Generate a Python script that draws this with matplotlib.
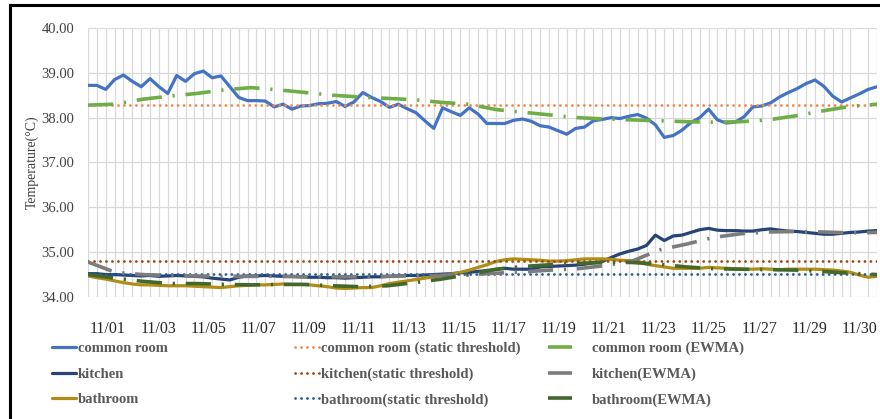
import numpy as np
import matplotlib
matplotlib.use("Agg")
import matplotlib.pyplot as plt
from matplotlib.lines import Line2D
from matplotlib.ticker import FixedLocator, MultipleLocator, FormatStrFormatter

plt.rcParams['font.family'] = ['Liberation Serif', 'DejaVu Serif']

# three readings per day, 11/01 .. 11/30
common_room = [
    38.72, 38.72, 38.63, 38.85, 38.95, 38.81, 38.69, 38.87, 38.69, 38.54,
    38.94, 38.81, 38.98, 39.04, 38.89, 38.93, 38.69, 38.45, 38.38, 38.38,
    38.37, 38.24, 38.30, 38.19, 38.26, 38.27, 38.31, 38.32, 38.36, 38.25,
    38.35, 38.56, 38.45, 38.36, 38.23, 38.30, 38.20, 38.11, 37.93, 37.76,
    38.22, 38.13, 38.05, 38.22, 38.08, 37.87, 37.87, 37.87, 37.94, 37.97,
    37.92, 37.82, 37.79, 37.71, 37.63, 37.76, 37.79, 37.93, 37.96, 38.00,
    37.98, 38.03, 38.07, 37.99, 37.84, 37.56, 37.60, 37.72, 37.89, 38.00,
    38.19, 37.95, 37.88, 37.90, 38.02, 38.24, 38.26, 38.33, 38.46, 38.56,
    38.65, 38.76, 38.84, 38.70, 38.48, 38.35, 38.44, 38.53, 38.63, 38.69,
]
kitchen = [
    34.52, 34.52, 34.50, 34.50, 34.49, 34.48, 34.47, 34.48, 34.46, 34.47,
    34.48, 34.47, 34.46, 34.45, 34.42, 34.40, 34.38, 34.44, 34.47, 34.47,
    34.48, 34.47, 34.46, 34.46, 34.45, 34.44, 34.44, 34.43, 34.43, 34.42,
    34.43, 34.44, 34.45, 34.45, 34.46, 34.47, 34.48, 34.48, 34.49, 34.50,
    34.51, 34.52, 34.54, 34.55, 34.57, 34.59, 34.61, 34.64, 34.62, 34.62,
    34.62, 34.67, 34.68, 34.69, 34.70, 34.71, 34.73, 34.76, 34.79, 34.88,
    34.96, 35.02, 35.07, 35.15, 35.38, 35.26, 35.36, 35.38, 35.44, 35.50,
    35.53, 35.49, 35.48, 35.48, 35.47, 35.47, 35.50, 35.52, 35.49, 35.47,
    35.46, 35.44, 35.42, 35.40, 35.40, 35.42, 35.44, 35.45, 35.47, 35.48,
]
bathroom = [
    34.47, 34.43, 34.40, 34.36, 34.32, 34.29, 34.27, 34.27, 34.26, 34.25,
    34.25, 34.25, 34.24, 34.23, 34.22, 34.21, 34.23, 34.25, 34.26, 34.27,
    34.27, 34.28, 34.29, 34.28, 34.28, 34.27, 34.25, 34.23, 34.20, 34.19,
    34.20, 34.21, 34.21, 34.25, 34.30, 34.33, 34.36, 34.39, 34.42, 34.45,
    34.48, 34.51, 34.55, 34.60, 34.66, 34.72, 34.79, 34.83, 34.85, 34.84,
    34.83, 34.82, 34.80, 34.80, 34.81, 34.83, 34.85, 34.85, 34.85, 34.84,
    34.82, 34.81, 34.80, 34.73, 34.70, 34.67, 34.64, 34.64, 34.64, 34.64,
    34.66, 34.65, 34.64, 34.63, 34.62, 34.62, 34.63, 34.62, 34.61, 34.62,
    34.62, 34.62, 34.62, 34.61, 34.60, 34.58, 34.55, 34.49, 34.44, 34.46,
]

# daily EWMA values
common_room_ewma = [
    38.28, 38.30, 38.41, 38.48, 38.54, 38.62, 38.67, 38.62, 38.56, 38.50,
    38.46, 38.43, 38.40, 38.34, 38.30, 38.18, 38.12, 38.06, 38.00, 37.97,
    37.95, 37.93, 37.91, 37.90, 37.91, 37.95, 38.04, 38.15, 38.25, 38.30,
]
kitchen_ewma = [
    34.78, 34.55, 34.50, 34.48, 34.47, 34.46, 34.46, 34.46, 34.45, 34.45,
    34.45, 34.46, 34.47, 34.48, 34.50, 34.53, 34.56, 34.60, 34.63, 34.70,
    34.80, 35.05, 35.18, 35.33, 35.41, 35.45, 35.46, 35.45, 35.43, 35.44,
]
bathroom_ewma = [
    34.50, 34.42, 34.35, 34.30, 34.30, 34.28, 34.27, 34.28, 34.28, 34.25,
    34.23, 34.25, 34.32, 34.40, 34.50, 34.62, 34.68, 34.72, 34.75, 34.77,
    34.77, 34.73, 34.67, 34.63, 34.62, 34.61, 34.60, 34.57, 34.53, 34.50,
]

common_room_static = 38.28
kitchen_static = 34.80
bathroom_static = 34.52

date_labels = ['11/01', '11/03', '11/05', '11/07', '11/09', '11/11', '11/13', '11/15',
               '11/17', '11/19', '11/21', '11/23', '11/25', '11/27', '11/29', '11/30']

x = np.arange(len(common_room))
x_daily = np.linspace(0, len(common_room) - 1, len(common_room_ewma))

fig = plt.figure(figsize=(8.8, 4.19), dpi=100)
ax = fig.add_axes([0.1, 0.2912, 0.8966, 0.642])

solid = dict(lw=2.3, solid_capstyle='round', solid_joinstyle='round')
dotted = dict(lw=2.0, ls=(0, (0.05, 2.1)), dash_capstyle='round')
dashdot = dict(lw=2.6, ls=(0, (7, 3, 0.6, 3)), dash_capstyle='butt')

h = {}
h['cr'], = ax.plot(x, common_room, color='#4472C4', **solid)
h['k'], = ax.plot(x, kitchen, color='#264478', **solid)
h['b'], = ax.plot(x, bathroom, color='#B08D14', **solid)
h['cr_s'] = ax.axhline(common_room_static, color='#F08A4B', **dotted)
h['k_s'] = ax.axhline(kitchen_static, color='#9E480E', **dotted)
h['b_s'] = ax.axhline(bathroom_static, color='#255E91', **dotted)
h['cr_e'], = ax.plot(x_daily, common_room_ewma, color='#70AD47', **dashdot)
h['k_e'], = ax.plot(x_daily, kitchen_ewma, color='#7C7C7C', **dashdot)
h['b_e'], = ax.plot(x_daily, bathroom_ewma, color='#43682B', **dashdot)

ax.set_xlim(0, len(common_room) - 1)
ax.set_ylim(34, 40)
ax.yaxis.set_major_locator(MultipleLocator(1))
ax.yaxis.set_major_formatter(FormatStrFormatter('%.2f'))

ax.xaxis.set_major_locator(FixedLocator(np.linspace(2.26, 87.0, len(date_labels))))
ax.set_xticklabels(date_labels)
ax.xaxis.set_minor_locator(MultipleLocator(1))

ax.grid(True, axis='y', color='#D9D9D9', lw=0.9)
ax.grid(True, axis='x', which='minor', color='#D9D9D9', lw=0.9)
ax.grid(False, axis='x', which='major')
ax.set_axisbelow(True)
for s in ax.spines.values():
    s.set_visible(False)
ax.tick_params(axis='both', which='both', length=0)
ax.tick_params(axis='x', labelsize=11.5, pad=17, colors='#262626')
ax.tick_params(axis='y', labelsize=10.5, pad=10, colors='#404040')
ax.set_ylabel('Temperature(\u00b0C)', fontsize=10, color='#404040', labelpad=2)

# three legend columns, placed separately
leg_kw = dict(loc='center left', frameon=False, borderpad=0, borderaxespad=0,
              labelspacing=0.84, handlelength=1.63,
              prop=dict(family=['Liberation Serif'], weight='bold', size=10.5))
columns = [
    (['cr', 'k', 'b'], ['common room', 'kitchen', 'bathroom'], 0.059, 0.17),
    (['cr_s', 'k_s', 'b_s'], ['common room (static threshold)', 'kitchen(static threshold)',
                              'bathroom(static threshold)'], 0.335, 0.17),
    (['cr_e', 'k_e', 'b_e'], ['common room (EWMA)', 'kitchen(EWMA)', 'bathroom(EWMA)'], 0.623, 1.37),
]
for keys, labels, xpos, pad in columns:
    lg = fig.legend([h[k] for k in keys], labels, bbox_to_anchor=(xpos, 0.107),
                    handletextpad=pad, **leg_kw)
    for t in lg.get_texts():
        t.set_color('#595959')

# black frame along top and left edges
fig.add_artist(Line2D([0.0108, 0.0108], [0, 0.988], transform=fig.transFigure, color='k', lw=2.2))
fig.add_artist(Line2D([0.0108, 1.0], [0.988, 0.988], transform=fig.transFigure, color='k', lw=2.2))

fig.savefig('out.png', dpi=100)
